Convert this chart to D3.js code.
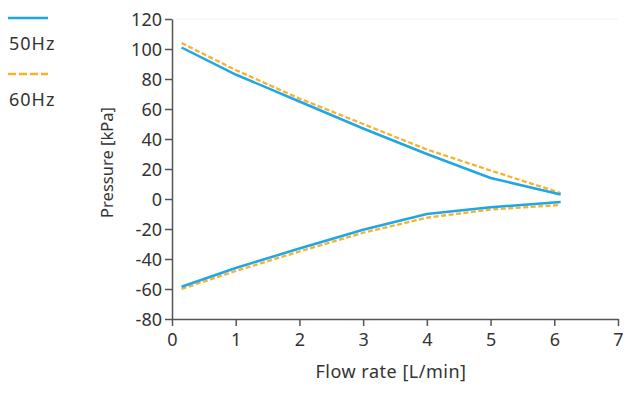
<!DOCTYPE html>
<html>
<head>
<meta charset="utf-8">
<script src="https://cdn.jsdelivr.net/npm/d3@7"></script>
<style>
  body { margin: 0; background: #fff; }
  svg { display: block; font-family: "Noto Sans", "Open Sans", sans-serif; }
</style>
</head>
<body>
<div id="chart"></div>
<script>
// Data
const flowRate = [0.15, 1, 2, 3, 4, 5, 6.1];
const hz50Pressure = [101, 83, 65, 47, 30, 14, 3];
const hz60Pressure = [104, 86, 67, 50, 33, 19, 4];
const hz50Vacuum = [-58.5, -46, -33, -20.5, -10, -5.5, -2];
const hz60Vacuum = [-60, -48, -35, -22.5, -12.5, -7, -4];
const xTicks = [0, 1, 2, 3, 4, 5, 6, 7];
const yTicks = [-80, -60, -40, -20, 0, 20, 40, 60, 80, 100, 120];

const width = 634, height = 396;
const margin = { top: 19, right: 16, bottom: 77, left: 172 };
const innerWidth = width - margin.left - margin.right;
const innerHeight = height - margin.top - margin.bottom;

const blue = "#1ea7e4";
const orange = "#f8b12c";

const svg = d3.select("#chart")
    .append("svg")
    .attr("width", width)
    .attr("height", height);

const x = d3.scaleLinear().domain([0, 7]).range([0, innerWidth]);
const y = d3.scaleLinear().domain([-80, 120]).range([innerHeight, 0]);

const g = svg.append("g")
    .attr("transform", `translate(${margin.left}, ${margin.top})`);

// faint frame line at the top
g.append("line")
    .attr("x1", 0).attr("x2", x(7))
    .attr("y1", y(120)).attr("y2", y(120))
    .attr("stroke", "#f3f3f3")
    .attr("stroke-width", 1);

// axes (plain hyphen for negatives, as in the reference)
const xAxis = g.append("g")
    .attr("transform", `translate(0, ${innerHeight})`)
    .call(d3.axisBottom(x).tickValues(xTicks).tickFormat(d => String(d)).tickSize(7).tickSizeOuter(0));

const yAxis = g.append("g")
    .call(d3.axisLeft(y).tickValues(yTicks).tickFormat(d => String(d)).tickSize(7).tickSizeOuter(0));

[xAxis, yAxis].forEach(a => {
    a.select(".domain").attr("stroke", "#555").attr("stroke-width", 1.5);
    a.selectAll(".tick line").attr("stroke", "#555").attr("stroke-width", 1.5);
    a.selectAll("text")
        .style("font-size", "18px")
        .style("fill", "#333")
        .style("font-family", "\"Noto Sans\", sans-serif");
});
xAxis.selectAll("text").attr("y", 27).attr("dy", 0);
yAxis.selectAll("text").attr("x", -10).attr("dy", "0.36em");

// lines
const line = d3.line()
    .x((d, i) => x(flowRate[i]))
    .y(d => y(d));

const series = [
    { values: hz60Pressure, color: orange, dash: "5,2.5", w: 2.3 },
    { values: hz60Vacuum, color: orange, dash: "5,2.5", w: 2.3 },
    { values: hz50Pressure, color: blue, dash: null, w: 2.5 },
    { values: hz50Vacuum, color: blue, dash: null, w: 2.5 }
];

g.selectAll(".series")
    .data(series)
    .enter()
    .append("path")
    .attr("class", "series")
    .attr("d", d => line(d.values))
    .attr("fill", "none")
    .attr("stroke", d => d.color)
    .attr("stroke-width", d => d.w)
    .attr("stroke-dasharray", d => d.dash);

// axis titles
svg.append("text")
    .attr("x", 391)
    .attr("y", 378)
    .attr("text-anchor", "middle")
    .style("font-size", "18px")
    .style("letter-spacing", "0.5px")
    .style("fill", "#333")
    .text("Flow rate [L/min]");

svg.append("text")
    .attr("transform", "rotate(-90)")
    .attr("x", -162.5)
    .attr("y", 113)
    .attr("text-anchor", "middle")
    .style("font-size", "16.5px")
    .style("fill", "#333")
    .text("Pressure [kPa]");

// legend
const legend = [
    { label: "50Hz", color: blue, dash: null, w: 2.5 },
    { label: "60Hz", color: orange, dash: "8,3", w: 2.3 }
];

const lg = svg.selectAll(".legend")
    .data(legend)
    .enter()
    .append("g")
    .attr("class", "legend")
    .attr("transform", (d, i) => `translate(8, ${18 + i * 56})`);

lg.append("line")
    .attr("x1", 0).attr("x2", 40)
    .attr("y1", 0).attr("y2", 0)
    .attr("stroke", d => d.color)
    .attr("stroke-width", d => d.w)
    .attr("stroke-dasharray", d => d.dash);

lg.append("text")
    .attr("x", 1)
    .attr("y", 32)
    .style("font-size", "18px")
    .style("letter-spacing", "1px")
    .style("fill", "#333")
    .text(d => d.label);
</script>
</body>
</html>
